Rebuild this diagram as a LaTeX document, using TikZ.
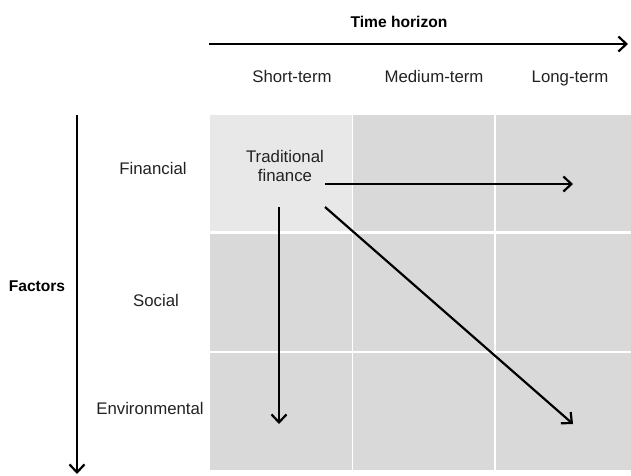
\documentclass[tikz,border=0pt]{standalone}
\usepackage{fontspec}
\setmainfont{Liberation Sans}
\usetikzlibrary{arrows.meta}
\definecolor{cellgray}{HTML}{D9D9D9}
\definecolor{celllight}{HTML}{E8E8E8}
\definecolor{txt}{HTML}{222222}
\begin{document}
\begin{tikzpicture}[x=1pt,y=-1pt,
  lbl/.style={font=\fontsize{16.8}{19}\selectfont, text=txt, inner sep=0pt, anchor=base},
  ttl/.style={font=\fontsize{15.6}{18}\selectfont\bfseries, text=black, inner sep=0pt, anchor=base},
  arr/.style={line width=2.2pt, -{Straight Barb[length=8pt,width=15pt,line width=2.2pt]}},
  sep/.style={draw=white}]
\useasboundingbox (0,0) rectangle (631,475);
% grid
\fill[cellgray] (210,115) rectangle (631,470);
\fill[celllight] (210,115) rectangle (352,232);
\draw[sep, line width=1.5pt] (352.5,115) -- (352.5,470);
\draw[sep, line width=1.5pt] (495,115) -- (495,470);
\draw[sep, line width=3.5pt] (210,232.5) -- (631,232.5);
\draw[sep, line width=2pt] (210,351.5) -- (631,351.5);
% time axis
\node[ttl] (th) at (399,27) {Time horizon};
\coordinate (ta) at (209,44);
\coordinate (tb) at (628,44);
\draw[arr] (ta) -- (tb);
\node[lbl] (st) at (292,82.5) {Short-term};
\node[lbl] (mt) at (434,82.5) {Medium-term};
\node[lbl] (lt) at (570,82.5) {Long-term};
% factor axis
\node[ttl] (fa) at (37,291.5) {Factors};
\coordinate (fa1) at (77,115);
\coordinate (fa2) at (77,474);
\draw[arr] (fa1) -- (fa2);
\node[lbl] (fin) at (153,174.5) {Financial};
\node[lbl] (soc) at (156,306.5) {Social};
\node[lbl] (env) at (150,414.5) {Environmental};
% traditional finance
\node[lbl] (tf1) at (285,162.5) {Traditional};
\node[lbl] (tf2) at (285,181.5) {finance};
\coordinate (h1) at (325,184);
\coordinate (h2) at (573,184);
\coordinate (v1) at (279,207);
\coordinate (v2) at (279,424);
\coordinate (d1) at (325,207);
\coordinate (d2) at (573,424);
\draw[arr] (h1) -- (h2);
\draw[arr] (v1) -- (v2);
\draw[arr] (d1) -- (d2);
\end{tikzpicture}
\end{document}
